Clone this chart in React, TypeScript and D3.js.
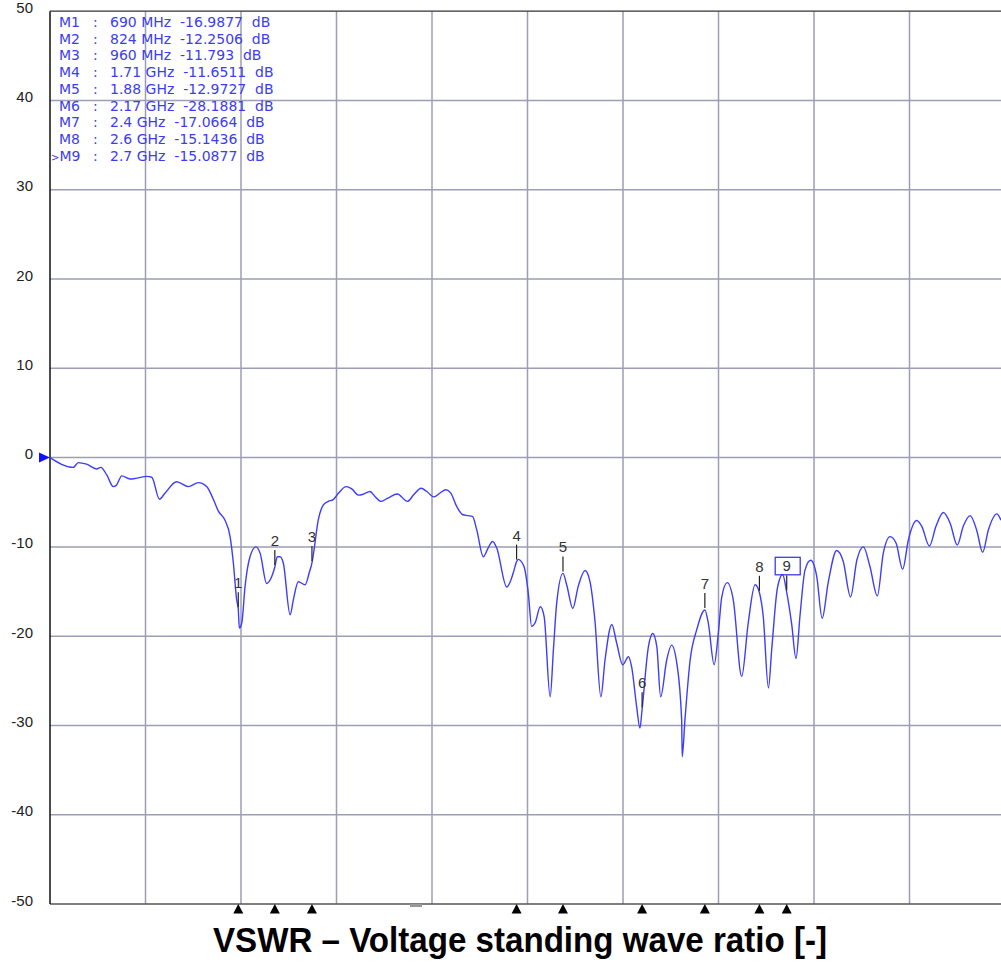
import React from 'react';
import * as d3 from 'd3';

// trace: frequency (MHz) and return loss (dB)
const freqMHz = [
  0, 85, 104, 134, 171, 186, 208, 232, 244, 263, 293, 318, 354, 373, 401, 421, 464, 507, 544, 574,
  599, 617, 641, 660, 672, 684, 690, 694, 703, 715, 733, 755, 770, 794, 813, 824, 833, 843, 855, 880,
  892, 910, 935, 950, 960, 965, 983, 1002, 1020, 1038, 1057, 1085, 1106, 1130, 1148, 1173, 1191, 1213, 1240, 1273,
  1310, 1332, 1360, 1381, 1407, 1429, 1451, 1469, 1491, 1513, 1533, 1549, 1564, 1588, 1606, 1622, 1637, 1674, 1698, 1710,
  1716, 1737, 1753, 1765, 1778, 1797, 1811, 1833, 1845, 1857, 1880, 1894, 1916, 1936, 1961, 1979, 1997, 2019, 2034, 2059,
  2077, 2099, 2120, 2132, 2150, 2162, 2170, 2193, 2209, 2224, 2238, 2260, 2278, 2297, 2315, 2317, 2327, 2346, 2370, 2400,
  2413, 2434, 2449, 2462, 2482, 2504, 2535, 2559, 2584, 2600, 2614, 2633, 2645, 2666, 2685, 2700, 2718, 2734, 2749, 2767,
  2788, 2810, 2830, 2852, 2883, 2907, 2934, 2957, 2981, 3005, 3032, 3054, 3079, 3101, 3125, 3146, 3176, 3195, 3223, 3247,
  3274, 3299, 3325, 3347, 3372, 3396, 3418, 3439, 3470, 3485,
];
const lossDb = [
  0, -1.1, -0.56, -0.74, -1.27, -1.1, -1.94, -3.25, -3.06, -2.05, -2.4, -2.3, -2.1, -2.2, -4.66, -4.0, -2.7, -3.25, -2.8, -3.25,
  -4.7, -6.0, -7.0, -8.85, -11.8, -15.9, -16.99, -19.1, -18.5, -14.4, -11.1, -10.0, -10.7, -14.1, -13.3, -12.25, -11.1, -11.1, -11.8, -17.6,
  -15.9, -13.9, -14.25, -12.9, -11.79, -10.9, -7.0, -5.3, -4.9, -4.7, -4.0, -3.25, -3.5, -4.2, -4.1, -3.8, -4.35, -4.9, -4.5, -4.07,
  -4.9, -4.2, -3.43, -3.8, -4.4, -3.97, -3.6, -3.97, -5.5, -6.4, -6.5, -6.6, -8.1, -11.1, -10.1, -9.4, -10.1, -14.5, -12.9, -11.65,
  -11.4, -12.2, -15.2, -18.9, -18.5, -16.7, -17.8, -26.8, -21.5, -16.3, -12.97, -14.3, -16.9, -14.4, -12.65, -13.9, -18.2, -26.8, -22.7, -18.7,
  -20.8, -23.2, -22.3, -23.5, -27.9, -30.3, -28.19, -21.2, -19.7, -21.2, -26.8, -22.7, -21.0, -23.0, -29.4, -33.5, -29.4, -22.7, -19.3, -17.07,
  -18.6, -23.2, -19.8, -15.6, -14.0, -15.9, -24.5, -18.5, -14.25, -15.14, -17.8, -25.8, -21.5, -14.6, -13.1, -15.09, -18.6, -22.5, -17.6, -12.6,
  -11.5, -13.3, -18.0, -14.0, -10.4, -11.6, -15.6, -11.5, -10.0, -12.2, -15.5, -10.7, -8.85, -9.6, -12.5, -9.2, -7.05, -7.7, -9.9, -7.7,
  -6.15, -7.35, -9.8, -7.7, -6.5, -8.1, -10.6, -8.1, -6.3, -7.0,
];

// markers M1..M9
const markerFreq = [690, 824, 960, 1710, 1880, 2170, 2400, 2600, 2700];
const markerDb = ['-16.9877', '-12.2506', '-11.793', '-11.6511', '-12.9727', '-28.1881', '-17.0664', '-15.1436', '-15.0877'];
const activeMarker = 8;

const yTicks = [50, 40, 30, 20, 10, 0, -10, -20, -30, -40, -50];
const title = 'VSWR \u2013 Voltage standing wave ratio [-]';

const W = 1001;
const H = 963;
const left = 50;
const right = 1005;
const top = 11.2;
const bottom = 904;

const gridColor = '#9d9db6';
const traceColor = '#3d3dfa';
const tableColor = '#3c3cf2';

function fmtFreq(f: number) {
  return f < 1000 ? `${f} MHz` : `${f / 1000} GHz`;
}

export default function App() {
  const x = d3.scaleLinear().domain([0, 3500]).range([left, right]);
  const y = d3.scaleLinear().domain([-50, 50]).range([bottom, top]);
  const xGrid = d3.range(0, 3501, 350);

  const line = d3
    .line<number>()
    .x((_, i) => x(freqMHz[i]))
    .y((d) => y(d))
    .curve(d3.curveMonotoneX);

  return (
    <svg width={W} height={H} style={{ position: 'absolute', left: 0, top: 0, background: '#fff' }}>
      <defs>
        <clipPath id="plot">
          <rect x={left} y={top} width={right - left} height={bottom - top} />
        </clipPath>
      </defs>

      {/* grid */}
      {xGrid.slice(1).map((f) => (
        <line key={'vx' + f} x1={x(f)} x2={x(f)} y1={top} y2={bottom} stroke={gridColor} strokeWidth={1.5} />
      ))}
      {yTicks.slice(1, -1).map((t) => (
        <line key={'hy' + t} x1={left} x2={W} y1={y(t)} y2={y(t)} stroke={gridColor} strokeWidth={1.5} />
      ))}
      <line x1={left} x2={W} y1={top} y2={top} stroke="#333" strokeWidth={1.2} />
      <line x1={left} x2={W} y1={bottom} y2={bottom} stroke="#555" strokeWidth={1.5} />
      <line x1={left} x2={left} y1={top} y2={bottom} stroke="#111" strokeWidth={1.5} />

      {/* y tick labels */}
      {yTicks.map((t) => (
        <text
          key={'yl' + t}
          x={33}
          y={y(t)}
          dy="0.1em"
          textAnchor="end"
          fontFamily="Liberation Sans, Arial, sans-serif"
          fontSize={15}
          fill="#222"
        >
          {t}
        </text>
      ))}

      {/* reference level arrow */}
      <path d={`M${left - 11},${y(0) - 5}L${left},${y(0)}L${left - 11},${y(0) + 5}Z`} fill="#1010ff" />

      {/* trace */}
      <path d={line(lossDb) || ''} fill="none" stroke={traceColor} strokeWidth={1.4} clipPath="url(#plot)" />

      {/* marker flags on the trace */}
      {markerFreq.map((f, i) => {
        const mx = x(f);
        const my = y(+markerDb[i]);
        return (
          <g key={'mk' + i}>
            <line x1={mx} x2={mx} y1={my - 17} y2={my - 2} stroke="#222" strokeWidth={1.2} />
            {i === activeMarker && (
              <rect x={mx - 11.5} y={my - 35} width={25} height={17.5} fill="none" stroke="#3a3af5" strokeWidth={1.3} />
            )}
            <text
              x={mx}
              y={my - 21}
              textAnchor="middle"
              fontFamily="Liberation Sans, Arial, sans-serif"
              fontSize={15}
              fill="#333"
            >
              {i + 1}
            </text>
          </g>
        );
      })}

      {/* marker triangles under the axis */}
      {markerFreq.map((f, i) => (
        <path
          key={'tr' + i}
          d={`M${x(f)},${bottom}L${x(f) + 5},${bottom + 9.5}L${x(f) - 5},${bottom + 9.5}Z`}
          fill="#000"
        />
      ))}
      <rect x={410} y={bottom} width={12} height={3} fill="#999" />

      {/* marker table */}
      <g fontFamily="DejaVu Sans, Verdana, sans-serif" fontSize={14} fill={tableColor}>
        {markerFreq.map((f, i) => {
          const ty = 27 + i * 16.7;
          return (
            <g key={'tb' + i}>
              {i === activeMarker ? (
                <text x={51} y={ty}>
                  <tspan fontSize={10}>&gt;</tspan>
                  {`M${i + 1}`}
                </text>
              ) : (
                <text x={59} y={ty}>{`M${i + 1}`}</text>
              )}
              <text x={93} y={ty}>:</text>
              <text x={110} y={ty} style={{ whiteSpace: 'pre' }}>
                {`${fmtFreq(f)}  ${markerDb[i]}  dB`}
              </text>
            </g>
          );
        })}
      </g>

      {/* caption */}
      <text
        x={520}
        y={952}
        textAnchor="middle"
        fontFamily="Liberation Sans Narrow, Arial Narrow, sans-serif"
        fontWeight="bold"
        fontSize={35}
        textLength={614}
        lengthAdjust="spacingAndGlyphs"
        fill="#000"
      >
        {title}
      </text>
    </svg>
  );
}
